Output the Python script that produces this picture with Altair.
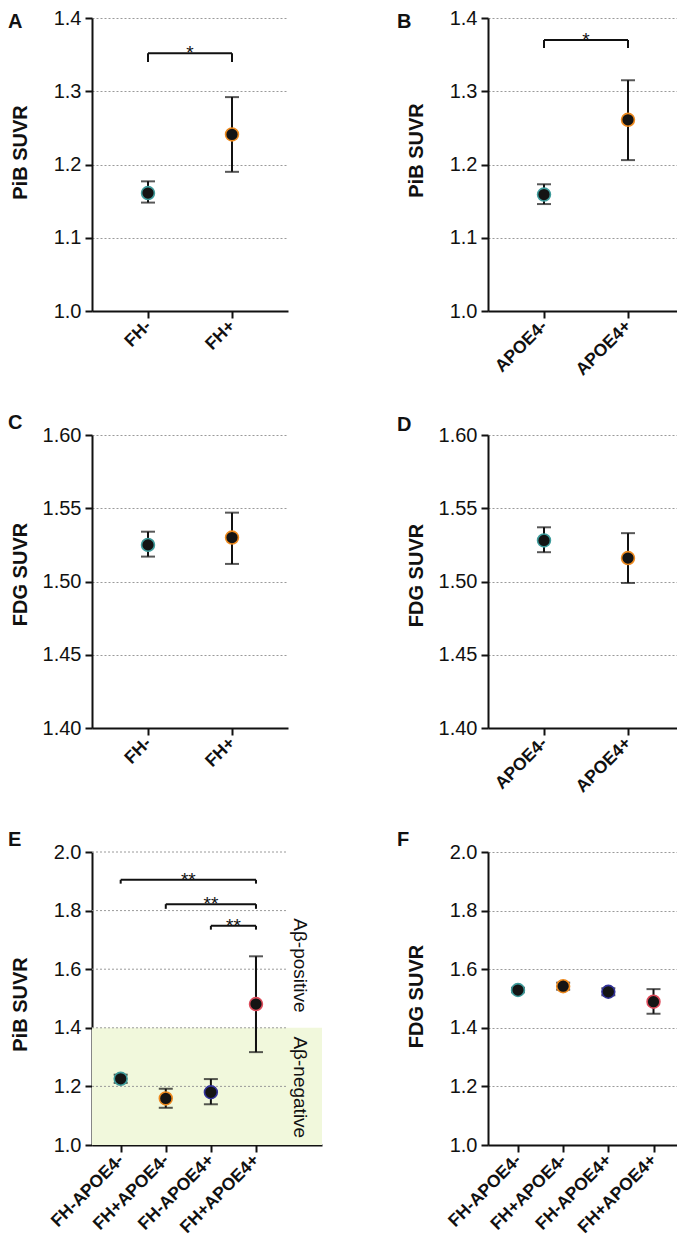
import json
import altair as alt
import pandas as pd

FONT = "Liberation Sans"

# ---------------- data ----------------
fh_groups = ["FH-", "FH+"]
apoe_groups = ["APOE4-", "APOE4+"]
combo_groups = ["FH-APOE4-", "FH+APOE4-", "FH-APOE4+", "FH+APOE4+"]

two_colors = ["#3f9c9c", "#ee8a1e"]
four_colors = ["#3f9c9c", "#ee8a1e", "#33339a", "#dd4a5a"]

pib_fh_mean = [1.161, 1.241]
pib_fh_lo = [1.148, 1.190]
pib_fh_hi = [1.177, 1.292]

pib_apoe_mean = [1.159, 1.261]
pib_apoe_lo = [1.146, 1.206]
pib_apoe_hi = [1.173, 1.315]

fdg_fh_mean = [1.525, 1.530]
fdg_fh_lo = [1.517, 1.512]
fdg_fh_hi = [1.534, 1.547]

fdg_apoe_mean = [1.528, 1.516]
fdg_apoe_lo = [1.520, 1.499]
fdg_apoe_hi = [1.537, 1.533]

pib_combo_mean = [1.226, 1.159, 1.180, 1.481]
pib_combo_lo = [1.212, 1.127, 1.139, 1.317]
pib_combo_hi = [1.240, 1.192, 1.225, 1.644]

fdg_combo_mean = [1.529, 1.542, 1.523, 1.489]
fdg_combo_lo = [1.521, 1.530, 1.511, 1.448]
fdg_combo_hi = [1.537, 1.554, 1.535, 1.532]

# significance brackets: (from index, to index, level, end level, label)
brackets_a = [(0, 1, 1.352, 1.340, "*")]
brackets_b = [(0, 1, 1.370, 1.359, "*")]
brackets_e = [(0, 3, 1.905, 1.892, "**"),
              (1, 3, 1.822, 1.806, "**"),
              (2, 3, 1.748, 1.735, "**")]

pib_ticks_small = [1.0, 1.1, 1.2, 1.3, 1.4]
fdg_ticks_small = [1.40, 1.45, 1.50, 1.55, 1.60]
wide_ticks = [1.0, 1.2, 1.4, 1.6, 1.8, 2.0]

band_range = [1.0, 1.4]
band_labels = ["Aβ-positive", "Aβ-negative"]
band_label_y = [1.613, 1.197]

GRID = "#9a9a9a"


def build_panel(letter, groups, colors, mean, lo, hi, ytitle, ydom, yticks, yfmt,
                xdom, width, title_y, letter_pos, brackets=None, grid_end=None,
                band=False):
    n = len(groups)
    df = pd.DataFrame({"i": list(range(n)), "group": groups, "mean": mean,
                       "lo": lo, "hi": hi, "color": colors})
    xscale = alt.Scale(domain=xdom, nice=False, zero=False)
    yscale = alt.Scale(domain=ydom, nice=False, zero=False)
    label_expr = json.dumps(groups) + "[datum.value]"
    xaxis = alt.Axis(values=list(range(n)), labelExpr=label_expr, title=None,
                     labelAngle=315, labelAlign="right", labelBaseline="middle",
                     labelFontWeight="bold", labelFontSize=17.5, labelPadding=5,
                     labelOverlap=False, labelFlush=False, grid=False)
    yaxis = alt.Axis(values=yticks, format=yfmt, title=ytitle,
                     grid=(grid_end is None), titleX=-66, titleY=title_y,
                     titleAngle=270, titleAlign="center",
                     titleBaseline="alphabetic", labelOverlap=False,
                     labelFlush=False)

    def X(field):
        return alt.X(field, type="quantitative", scale=xscale, axis=xaxis)

    def Y(field):
        return alt.Y(field, type="quantitative", scale=yscale, axis=yaxis)

    base = alt.Chart(df)
    layers = []

    if band:
        bdf = pd.DataFrame({"b0": [band_range[0]], "b1": [band_range[1]]})
        layers.append(alt.Chart(bdf).mark_rect(color="#f1f8dc").encode(
            y=Y("b0"), y2="b1", x=alt.value(0), x2=alt.value("width")))
    if grid_end is not None:
        gdf = pd.DataFrame({"v": yticks[1:]})
        layers.append(alt.Chart(gdf).mark_rule(color=GRID, strokeDash=[2, 2],
                                               strokeWidth=1).encode(
            y=Y("v"), x=alt.value(0), x2=alt.value(grid_end)))

    layers.append(base.mark_rule(color="#111", strokeWidth=2).encode(
        x=X("i"), y=Y("lo"), y2="hi"))
    layers.append(base.mark_tick(color="#111", orient="horizontal", size=14,
                                 thickness=2).encode(x=X("i"), y=Y("lo")))
    layers.append(base.mark_tick(color="#111", orient="horizontal", size=14,
                                 thickness=2).encode(x=X("i"), y=Y("hi")))
    layers.append(base.mark_circle(size=165, fill="#141414", opacity=1,
                                   strokeWidth=1.6).encode(
        x=X("i"), y=Y("mean"), stroke=alt.Stroke("color:N", scale=None)))

    if brackets:
        hdf = pd.DataFrame({"a": [b[0] for b in brackets], "b": [b[1] for b in brackets],
                            "lev": [b[2] for b in brackets], "end": [b[3] for b in brackets],
                            "mid": [(b[0] + b[1]) / 2 for b in brackets],
                            "lab": [b[4] for b in brackets]})
        layers.append(alt.Chart(hdf).mark_rule(color="#111", strokeWidth=2).encode(
            x=X("a"), x2="b", y=Y("lev")))
        layers.append(alt.Chart(hdf).mark_rule(color="#111", strokeWidth=2).encode(
            x=X("a"), y=Y("lev"), y2="end"))
        layers.append(alt.Chart(hdf).mark_rule(color="#111", strokeWidth=2).encode(
            x=X("b"), y=Y("lev"), y2="end"))
        layers.append(alt.Chart(hdf).mark_text(font=FONT, fontSize=19, color="#111",
                                               baseline="alphabetic", dy=6).encode(
            x=X("mid"), y=Y("lev"), text="lab:N"))

    if band:
        tdf = pd.DataFrame({"t": band_labels, "y": band_label_y})
        layers.append(alt.Chart(tdf).mark_text(font=FONT, fontSize=19, angle=90,
                                               align="center", baseline="middle",
                                               color="#111").encode(
            y=Y("y"), x=alt.value(208), text="t:N"))

    ldf = pd.DataFrame({"t": [letter]})
    layers.append(alt.Chart(ldf).mark_text(font=FONT, fontSize=20, fontWeight="bold",
                                           align="left", baseline="top",
                                           color="#111").encode(
        x=alt.value(letter_pos[0]), y=alt.value(letter_pos[1]), text="t:N"))

    return alt.layer(*layers).properties(width=width, height=293)


xd_left = [-2 / 3, 5 / 3]
xd_right = [-2 / 3, -2 / 3 + 189 / 84]
pA = build_panel("A", fh_groups, two_colors, pib_fh_mean, pib_fh_lo, pib_fh_hi,
                 "PiB SUVR", [1.0, 1.4], pib_ticks_small, ".1f", xd_left, 196, 134,
                 (-84, -6), brackets=brackets_a)
pB = build_panel("B", apoe_groups, two_colors, pib_apoe_mean, pib_apoe_lo, pib_apoe_hi,
                 "PiB SUVR", [1.0, 1.4], pib_ticks_small, ".1f", xd_right, 189, 132,
                 (-91, -6), brackets=brackets_b)
pC = build_panel("C", fh_groups, two_colors, fdg_fh_mean, fdg_fh_lo, fdg_fh_hi,
                 "FDG SUVR", [1.4, 1.6], fdg_ticks_small, ".2f", xd_left, 196, 139,
                 (-84, -22))
pD = build_panel("D", apoe_groups, two_colors, fdg_apoe_mean, fdg_apoe_lo, fdg_apoe_hi,
                 "FDG SUVR", [1.4, 1.6], fdg_ticks_small, ".2f", xd_right, 189, 140,
                 (-91, -20))
pE = build_panel("E", combo_groups, four_colors, pib_combo_mean, pib_combo_lo, pib_combo_hi,
                 "PiB SUVR", [1.0, 2.0], wide_ticks, ".1f", [-0.636, 4.464], 230, 152,
                 (-84, -22), brackets=brackets_e, grid_end=194, band=True)
pF = build_panel("F", combo_groups, four_colors, fdg_combo_mean, fdg_combo_lo, fdg_combo_hi,
                 "FDG SUVR", [1.0, 2.0], wide_ticks, ".1f", [-0.664, -0.664 + 189 / 45.17],
                 189, 144, (-91, -22))

chart = alt.concat(pA, pB, pC, pD, pE, pF, columns=2, bounds="flush",
                   spacing={"row": 124, "column": 166}).properties(
    padding=0
).configure_view(stroke=None).configure_axis(
    domainColor="#111", domainWidth=2, tickColor="#111", tickWidth=2, tickSize=7,
    labelColor="#111", labelFont=FONT, labelFontSize=20, labelPadding=4,
    titleFont=FONT, titleFontSize=20, titleFontWeight="bold", titleColor="#111",
    gridColor=GRID, gridDash=[2, 2], gridWidth=1
).configure_text(font=FONT)

chart.save("out.html", embed_options={"renderer": "svg", "actions": False})
